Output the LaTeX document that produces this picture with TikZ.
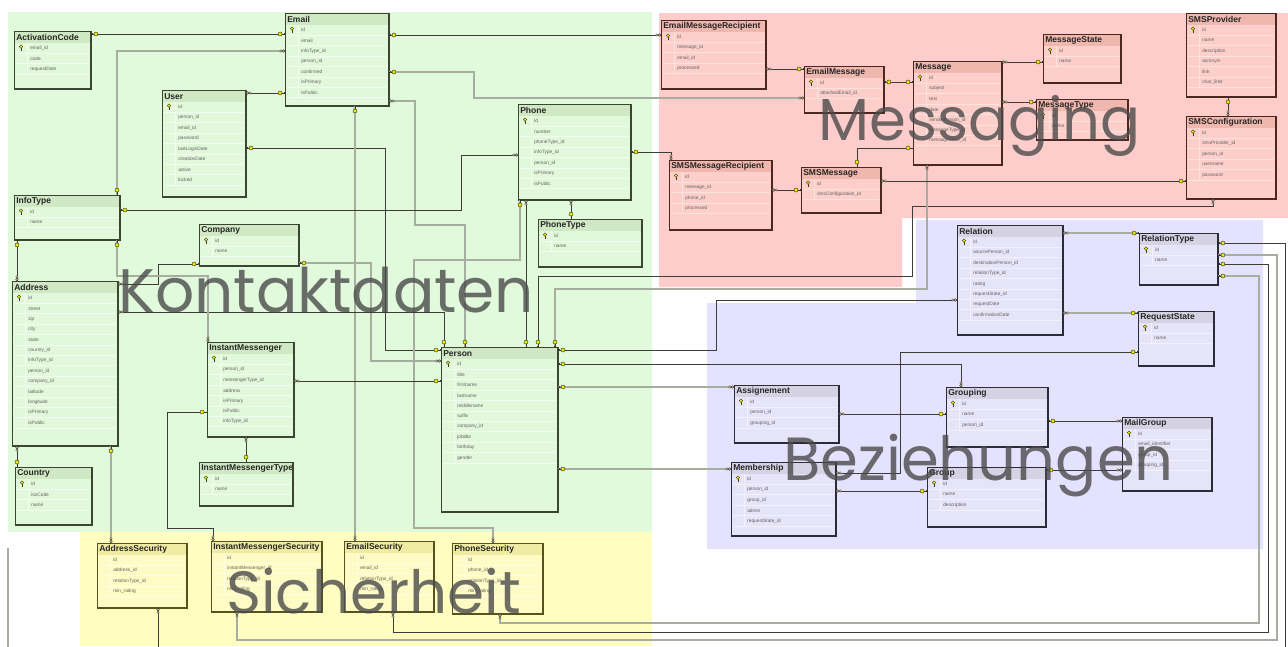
\documentclass[tikz,border=0pt]{standalone}
\usepackage{graphicx}
\usepackage{fontspec}
\setmainfont{Liberation Sans}
\newfontfamily\zonefont{Poppins}
\usetikzlibrary{decorations.markings}

% zone palettes: Bg, Head, Body, Edge, Line
\definecolor{gBg}{HTML}{E1FADC}\definecolor{gHead}{HTML}{D0E8C4}\definecolor{gBody}{HTML}{E2F8DB}
\definecolor{gEdge}{HTML}{3A4632}\definecolor{gLine}{HTML}{F3FCF0}
\definecolor{rBg}{HTML}{FFCCCC}\definecolor{rHead}{HTML}{EFB7AD}\definecolor{rBody}{HTML}{FDCFCA}
\definecolor{rEdge}{HTML}{4A2820}\definecolor{rLine}{HTML}{FFE2DE}
\definecolor{bBg}{HTML}{E4E2FE}\definecolor{bHead}{HTML}{D5D3E3}\definecolor{bBody}{HTML}{E6E4F8}
\definecolor{bEdge}{HTML}{2C2C38}\definecolor{bLine}{HTML}{F2F1FC}
\definecolor{yBg}{HTML}{FFFDBF}\definecolor{yHead}{HTML}{F0EBA2}\definecolor{yBody}{HTML}{FEFBC4}
\definecolor{yEdge}{HTML}{57531F}\definecolor{yLine}{HTML}{FFFDE2}
\definecolor{keyY}{HTML}{EEEA10}\definecolor{keyD}{HTML}{3A3A1C}
\definecolor{wireD}{HTML}{3C3D34}\definecolor{wireL}{HTML}{A7AE9F}
\definecolor{zoneT}{HTML}{4A4A4A}

% connector end symbols (local x axis points away from the table)
\newcommand\keymark{%
  \draw[keyD, line width=0.55pt] (0pt,0pt) -- (2.4pt,0pt);
  \draw[keyD, line width=0.45pt] (0.7pt,0pt) -- (0.7pt,1.1pt);
  \filldraw[fill=keyY, draw=keyD, line width=0.35pt] (3.7pt,0pt) circle (1.5pt);}
\newcommand\manymark{%
  \filldraw[fill=white, draw=keyD, line width=0.35pt] (1.1pt,0pt) circle (0.95pt) (3.1pt,0pt) circle (0.95pt);}

\tikzset{
  tblbox/.style={inner sep=0pt, outer sep=0pt, line width=0.6pt},
  tbltitle/.style={inner sep=0pt, font=\fontsize{6.4}{7}\selectfont\bfseries, text=black!85},
  tblfield/.style={inner sep=0pt, font=\fontsize{3.6}{4}\selectfont, text=black!62},
  tblkey/.pic={
    \draw[keyD, line width=0.5pt] (0,-0.5) -- (0,3);
    \draw[keyD, line width=0.4pt] (0,2) -- (1.2,2);
    \filldraw[fill=keyY, draw=keyD, line width=0.3pt] (0,-1.6) circle (1.35pt);},
  wire/.style={draw=wireD, line width=0.75pt},
  wirel/.style={draw=wireL, line width=1.1pt},
  ks/.style={postaction={decorate, decoration={markings, mark=at position 0 with {\keymark}}}},
  ke/.style={postaction={decorate, decoration={markings, mark=at position 1 with {\begin{scope}[xscale=-1]\keymark\end{scope}}}}},
  ms/.style={postaction={decorate, decoration={markings, mark=at position 0 with {\manymark}}}},
  me/.style={postaction={decorate, decoration={markings, mark=at position 1 with {\begin{scope}[xscale=-1]\manymark\end{scope}}}}},
  zone/.style={inner sep=0pt, font=\zonefont\fontsize{40}{48}\selectfont, text=zoneT, text opacity=0.8},
}

% #1 name, #2 palette, #3 left, #4 top, #5 right, #6 bottom, #7 title, #8 key on first row, #9 fields
\newcommand\dbtable[9]{%
  \node[tblbox, fill=#2Body, draw=#2Edge, anchor=north west,
    minimum width={(#5-#3)*0.75pt}, minimum height={(#6-#4)*0.75pt}] (#1) at (#3,#4) {};
  \fill[#2Head] (#3+0.5,#4+0.5) rectangle (#5-0.5,#4+12);
  \node[tbltitle, anchor=west] at (#3+2,#4+6.5) {#7};
  \foreach \fld [count=\i] in {#9} {%
    \pgfmathsetmacro\ya{#4+12+(\i-1)*10.4}%
    \pgfmathsetmacro\yb{\ya+10.4}%
    \draw[#2Line, line width=0.5pt] (#3+2,\yb) -- (#5-2.5,\yb);
    \node[tblfield, anchor=west] at (#3+16,\ya+5.2) {\fld};
    \xdef\rowend{\yb}%
  }%
  \draw[#2Line, line width=0.5pt] (#3+13,#4+12) -- (#3+13,\rowend);
  \ifnum#8=1 \pic at (#3+7,#4+17.2) {tblkey};\fi
  \draw[#2Edge, line width=1.1pt] (#5,#4) -- (#5,#6) -- (#3,#6);
}

\begin{document}
\begin{tikzpicture}[x=0.75pt, y=-0.75pt]
\useasboundingbox (0,0) rectangle (1288,646);
\fill[white] (0,0) rectangle (1288,646);

% subject areas
\fill[gBg] (8,12) rectangle (652,532);
\fill[yBg] (80,532) rectangle (652,646);
\fill[rBg] (659,13) -- (1288,13) -- (1288,218) -- (902,218) -- (902,287) -- (659,287) -- cycle;
\fill[bBg] (916,220) -- (1263,220) -- (1263,549) -- (707,549) -- (707,303) -- (916,303) -- cycle;

% ---------------- tables ----------------
\dbtable{ActivationCode}{g}{14}{31}{91}{89}{ActivationCode}{1}{email\_id,code,requestDate}
\dbtable{Email}{g}{285}{13}{389}{106}{Email}{1}{id,email,infoType\_id,person\_id,confirmed,isPrimary,isPublic}
\dbtable{User}{g}{162}{90}{246}{197}{User}{1}{id,person\_id,email\_id,password,lastLoginDate,creationDate,active,locked}
\dbtable{InfoType}{g}{14}{195}{120}{240}{InfoType}{1}{id,name}
\dbtable{Company}{g}{199}{224}{299}{266}{Company}{1}{id,name}
\dbtable{Address}{g}{12}{281}{118}{446}{Address}{1}{id,street,zip,city,state,country\_id,infoType\_id,person\_id,company\_id,latitude,longitude,isPrimary,isPublic}
\dbtable{Country}{g}{15}{467}{92}{525}{Country}{1}{id,isoCode,name}
\dbtable{InstantMessenger}{g}{207}{342}{294}{437}{InstantMessenger}{1}{id,person\_id,messengerType\_id,address,isPrimary,isPublic,infoType\_id}
\dbtable{InstantMessengerType}{g}{199}{462}{293}{506}{InstantMessengerType}{1}{id,name}
\dbtable{Phone}{g}{518}{104}{631}{200}{Phone}{1}{id,number,phoneType\_id,infoType\_id,person\_id,isPrimary,isPublic}
\dbtable{PhoneType}{g}{538}{219}{642}{267}{PhoneType}{1}{id,name}
\dbtable{Person}{g}{441}{347}{558}{512}{Person}{1}{id,title,firstname,lastname,middlename,suffix,company\_id,jobtitle,birthday,gender}

\dbtable{EmailMessageRecipient}{r}{661}{20}{766}{89}{EmailMessageRecipient}{1}{id,message\_id,email\_id,processed}
\dbtable{EmailMessage}{r}{804}{66}{884}{113}{EmailMessage}{1}{id,attachedEmail\_id}
\dbtable{Message}{r}{913}{61}{1002}{165}{Message}{1}{id,subject,text,date,senderPerson\_id,messageType\_id,messageState\_id}
\dbtable{MessageState}{r}{1043}{34}{1121}{83}{MessageState}{1}{id,name}
\dbtable{MessageType}{r}{1036}{99}{1128}{140}{MessageType}{1}{id,name}
\dbtable{SMSProvider}{r}{1186}{13}{1276}{97}{SMSProvider}{1}{id,name,description,acronym,link,char\_limit}
\dbtable{SMSConfiguration}{r}{1186}{116}{1276}{199}{SMSConfiguration}{1}{id,smsProvider\_id,person\_id,username,password}
\dbtable{SMSMessageRecipient}{r}{669}{160}{772}{230}{SMSMessageRecipient}{1}{id,message\_id,phone\_id,processed}
\dbtable{SMSMessage}{r}{801}{167}{881}{213}{SMSMessage}{1}{id,smsConfiguration\_id}

\dbtable{Relation}{b}{957}{225}{1063}{335}{Relation}{1}{id,sourcePerson\_id,destinationPerson\_id,relationType\_id,rating,requestState\_id,requestDate,confirmationDate}
\dbtable{RelationType}{b}{1139}{233}{1218}{285}{RelationType}{1}{id,name}
\dbtable{RequestState}{b}{1138}{311}{1214}{366}{RequestState}{1}{id,name}
\dbtable{Assignement}{b}{734}{385}{839}{443}{Assignement}{1}{id,person\_id,grouping\_id}
\dbtable{Grouping}{b}{946}{387}{1048}{447}{Grouping}{1}{id,name,person\_id}
\dbtable{MailGroup}{b}{1122}{417}{1212}{491}{MailGroup}{1}{id,email\_identifier,group\_id,grouping\_id}
\dbtable{Membership}{b}{731}{462}{836}{536}{Membership}{1}{id,person\_id,group\_id,admin,requestState\_id}
\dbtable{Group}{b}{927}{467}{1046}{527}{Group}{1}{id,name,description}

\dbtable{AddressSecurity}{y}{97}{543}{187}{608}{AddressSecurity}{0}{id,address\_id,relationType\_id,min\_rating}
\dbtable{InstantMessengerSecurity}{y}{211}{541}{322}{612}{InstantMessengerSecurity}{0}{id,instantMessenger\_id,relationType\_id,min\_rating}
\dbtable{EmailSecurity}{y}{344}{541}{434}{612}{EmailSecurity}{0}{id,email\_id,relationType\_id,min\_rating}
\dbtable{PhoneSecurity}{y}{452}{543}{543}{614}{PhoneSecurity}{0}{id,phone\_id,relationType\_id,min\_rating}

% ---------------- relationships ----------------
% contact data
\draw[wire,ks,ke] (ActivationCode.east |- 0,34) -- (Email.west |- 0,34);
\draw[wirel,ms,ke] (Email.west |- 0,51) -| (InfoType.north -| 117,0);
\draw[wire,ms,ke] (User.east |- 0,93) -- (Email.west |- 0,93);
\draw[wire,ks,ke] (User.east |- 0,148) -- (385,148) -- (385,350) -- (Person.west |- 0,350);
\draw[wirel,ms,ke] (Email.east |- 0,101) -- (415,101) -- (415,225) -- (465,225) -- (Person.north -| 465,0);
\draw[wirel,ks,me] (Email.south -| 355,0) -- (EmailSecurity.north -| 355,0);
\draw[wire,ks,me] (InfoType.east |- 0,210) -- (461,210) -- (461,155) -- (Phone.west |- 0,155);
\draw[wire,ms,ke] (Phone.south -| 571,0) -- (PhoneType.north -| 571,0);
\draw[wirel,ks,me] (Phone.south -| 520,0) -- (520,260) -- (414,260) -- (414,528) -- (493,528) -- (PhoneSecurity.north -| 493,0);
\draw[wire,ms,ke] (Phone.south -| 526,0) -- (Person.north -| 526,0);
\draw[wirel,ks,me] (Company.east |- 0,263) -- (371,263) -- (371,361) -- (Person.west |- 0,361);
\draw[wire,ms,ke] (Address.east |- 0,312) -- (444,312) -- (Person.north -| 444,0);
\draw[wire,ms,ke] (Address.east |- 0,284) -- (158,284) -- (158,264) -- (Company.west |- 0,264);
\draw[wirel,ks,me] (InfoType.south -| 117,0) -- (117,276) -- (208,276) -- (InstantMessenger.north -| 208,0);
\draw[wire,ms,ke] (InstantMessenger.east |- 0,381) -- (Person.west |- 0,381);
\draw[wire,ks,me] (InfoType.south -| 17,0) -- (Address.north -| 17,0);
\draw[wire,ms,ke] (InstantMessenger.south -| 246,0) -- (InstantMessengerType.north -| 246,0);
\draw[wire,ks,me] (InstantMessenger.west |- 0,412) -- (167,412) -- (167,528) -- (213,528) -- (InstantMessengerSecurity.north -| 213,0);
\draw[wire,ms,ke] (Address.south -| 17,0) -- (Country.north -| 17,0);
\draw[wirel,ks,me] (Address.south -| 111,0) -- (AddressSecurity.north -| 111,0);

% contact data to messaging
\draw[wire,ks,me] (Email.east |- 0,35) -- (EmailMessageRecipient.west |- 0,35);
\draw[wirel,ks,me] (Email.east |- 0,72) -- (474,72) -- (474,98) -- (EmailMessage.west |- 0,98);
\draw[wire,ks,me] (Phone.east |- 0,152) -- (671,152) -- (SMSMessageRecipient.north -| 671,0);
\draw[wire,ks,me] (Person.north -| 538,0) -- (538,276) -- (912,276) -- (912,206) -- (1213,206) -- (SMSConfiguration.south -| 1213,0);
\draw[wirel,ks,me] (Person.north -| 555,0) -- (555,289) -- (927,289) -- (Message.south -| 927,0);

% messaging
\draw[wire,ms,ke] (EmailMessageRecipient.east |- 0,69) -- (EmailMessage.west |- 0,69);
\draw[wire,ks,ke] (EmailMessage.east |- 0,82) -- (Message.west |- 0,82);
\draw[wire,ks,ke] (Message.west |- 0,148) -- (857,148) -- (SMSMessage.north -| 857,0);
\draw[wire,ms,ke] (SMSMessageRecipient.east |- 0,190) -- (SMSMessage.west |- 0,190);
\draw[wire,ms,ke] (SMSMessage.east |- 0,181) -- (SMSConfiguration.west |- 0,181);
\draw[wire,ms,ke] (Message.east |- 0,62) -- (MessageState.west |- 0,62);
\draw[wire,ms,ke] (Message.east |- 0,102) -- (MessageType.west |- 0,102);
\draw[wire,ks,me] (SMSProvider.south -| 1228,0) -- (SMSConfiguration.north -| 1228,0);

% relations
\draw[wire,ks,me] (Person.east |- 0,350) -- (716,350) -- (716,300) -- (Relation.west |- 0,300);
\draw[wire,ks,me] (Person.east |- 0,364) -- (961,364) -- (Grouping.north -| 961,0);
\draw[wirel,ks,me] (Person.east |- 0,387) -- (Assignement.west |- 0,387);
\draw[wirel,ks,me] (Person.east |- 0,469) -- (Membership.west |- 0,469);
\draw[wirel,ms,ke] (Relation.east |- 0,233) -- (RelationType.west |- 0,233);
\draw[wirel,ms,ke] (Relation.east |- 0,313) -- (RequestState.west |- 0,313);
\draw[wire,ms,ke] (Membership.east |- 0,473) -- (900,473) -- (900,352) -- (RequestState.west |- 0,352);
\draw[wire,ms,ke] (Assignement.east |- 0,414) -- (Grouping.west |- 0,414);
\draw[wire,ms,ke] (Membership.east |- 0,491) -- (Group.west |- 0,491);
\draw[wire,ks,me] (Grouping.east |- 0,421) -- (MailGroup.west |- 0,421);
\draw[wire,ks,me] (Group.east |- 0,470) -- (MailGroup.west |- 0,470);

% relation types to security tables
\draw[wire,ks,me] (RelationType.east |- 0,243) -- (1285,243) -- (1285,660) -- (158,660) -- (AddressSecurity.south -| 158,0);
\draw[wirel,ks,me] (RelationType.east |- 0,255) -- (1277,255) -- (1277,640) -- (237,640) -- (InstantMessengerSecurity.south -| 237,0);
\draw[wire,ks,me] (RelationType.east |- 0,264) -- (1268,264) -- (1268,632) -- (393,632) -- (EmailSecurity.south -| 393,0);
\draw[wirel,ks,me] (RelationType.east |- 0,276) -- (1259,276) -- (1259,623) -- (500,623) -- (PhoneSecurity.south -| 500,0);
\coordinate (edgeTop) at (8,548);
\coordinate (edgeBot) at (8,660);
\draw[wirel] (edgeTop) -- (edgeBot);

% ---------------- area captions ----------------
\node[zone, anchor=base west] (capK) at (118,312) {\resizebox{312pt}{!}{Kontaktdaten}};
\node[zone, anchor=base west] (capM) at (818,140) {\resizebox{242pt}{!}{Messaging}};
\node[zone, anchor=base west] (capB) at (783,480) {\resizebox{293pt}{!}{Beziehungen}};
\node[zone, anchor=base west] (capS) at (226,613) {\resizebox{221pt}{!}{Sicherheit}};
\end{tikzpicture}
\end{document}
